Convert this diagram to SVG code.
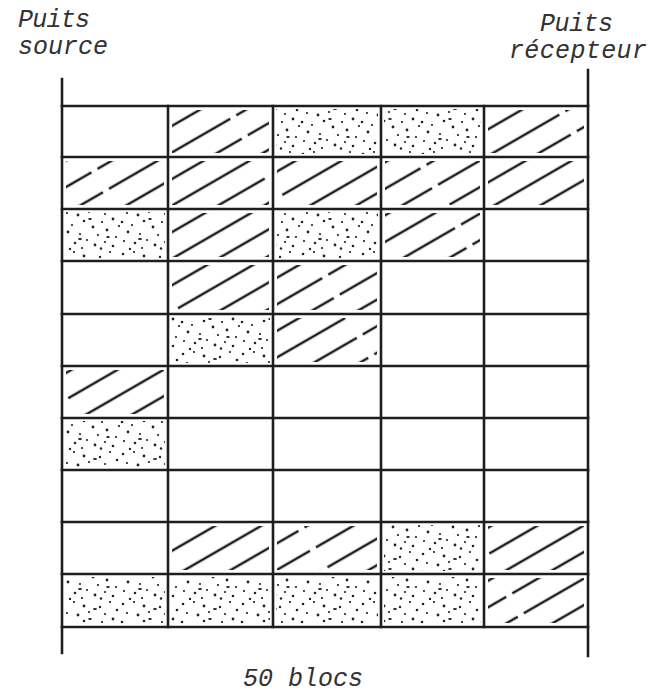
<svg xmlns="http://www.w3.org/2000/svg" width="651" height="697" viewBox="0 0 651 697">
<style>
.lbl{font-family:"Liberation Mono","DejaVu Sans Mono",monospace;font-style:italic;font-size:25px;fill:#333}
.grid{stroke:#1e1e1e;stroke-width:2.6;fill:none;stroke-linecap:square}
.hatch{fill:url(#hatch)}
.dots{fill:url(#dots)}
</style>
<defs>
<pattern id="hatch" patternUnits="userSpaceOnUse" width="287" height="23" patternTransform="rotate(-30)">
<line x1="0" y1="11" x2="287" y2="11" stroke="#1e1e1e" stroke-width="2.5" stroke-dasharray="140 7 133 7"/>
</pattern>
<pattern id="dots" patternUnits="userSpaceOnUse" width="60" height="50">
<g fill="#222">
<circle cx="3" cy="4" r="1.3"/><circle cx="14" cy="2" r="1.1"/><circle cx="24" cy="6" r="1.4"/><circle cx="40" cy="7" r="1.2"/><circle cx="50" cy="2" r="1.1"/><circle cx="57" cy="10" r="1.3"/>
<circle cx="7" cy="13" r="1.1"/><circle cx="18" cy="15" r="1.4"/><circle cx="29" cy="12" r="1.1"/><circle cx="45" cy="14" r="1.1"/><circle cx="53" cy="19" r="1.4"/>
<circle cx="2" cy="22" r="1.3"/><circle cx="12" cy="25" r="1.1"/><circle cx="24" cy="21" r="1.3"/><circle cx="33" cy="27" r="1.4"/><circle cx="42" cy="22" r="1.1"/><circle cx="59" cy="26" r="1.1"/>
<circle cx="8" cy="32" r="1.4"/><circle cx="20" cy="34" r="1.1"/><circle cx="38" cy="35" r="1.1"/><circle cx="47" cy="30" r="1.4"/><circle cx="56" cy="37" r="1.1"/>
<circle cx="4" cy="41" r="1.1"/><circle cx="15" cy="43" r="1.3"/><circle cx="27" cy="40" r="1.1"/><circle cx="35" cy="45" r="1.4"/><circle cx="45" cy="42" r="1.1"/><circle cx="53" cy="46" r="1.3"/>
<circle cx="10" cy="49" r="1.2"/><circle cx="22" cy="48" r="1.1"/><circle cx="41" cy="48.5" r="1.2"/>
<ellipse cx="35" cy="9" rx="2" ry="1"/><ellipse cx="20" cy="39" rx="2" ry="1"/><ellipse cx="48" cy="37" rx="1.8" ry="1.1"/><ellipse cx="30" cy="19" rx="1.8" ry="1"/>
</g>
</pattern>
</defs>

<g id="labels">
<text class="lbl" x="18" y="27" textLength="72">Puits</text>
<text class="lbl" x="18" y="54" textLength="90">source</text>
<text class="lbl" x="540" y="31" textLength="73">Puits</text>
<text class="lbl" x="509" y="58" textLength="138">récepteur</text>
<text class="lbl" x="243" y="686" textLength="120">50 blocs</text>
</g>

<g id="cells">
<g id="r0c1"><rect class="hatch" x="172" y="110" width="97" height="43"/></g>
<g id="r0c2"><rect class="dots" x="276" y="109" width="102" height="45"/></g>
<g id="r0c3"><rect class="dots" x="384" y="109" width="97" height="45"/></g>
<g id="r0c4"><rect class="hatch" x="488" y="110" width="96" height="43"/></g>

<g id="r1c0"><rect class="hatch" x="66" y="161" width="98" height="44"/></g>
<g id="r1c1"><rect class="hatch" x="172" y="161" width="97" height="44"/></g>
<g id="r1c2"><rect class="hatch" x="277" y="161" width="100" height="44"/></g>
<g id="r1c3"><rect class="hatch" x="385" y="161" width="95" height="44"/></g>
<g id="r1c4"><rect class="hatch" x="488" y="161" width="96" height="44"/></g>

<g id="r2c0"><rect class="dots" x="65" y="212" width="100" height="46"/></g>
<g id="r2c1"><rect class="hatch" x="172" y="213" width="97" height="44"/></g>
<g id="r2c2"><rect class="dots" x="276" y="212" width="102" height="46"/></g>
<g id="r2c3"><rect class="hatch" x="385" y="213" width="95" height="44"/></g>

<g id="r3c1"><rect class="hatch" x="172" y="265" width="97" height="45"/></g>
<g id="r3c2"><rect class="hatch" x="277" y="265" width="100" height="45"/></g>

<g id="r4c1"><rect class="dots" x="171" y="317" width="99" height="46"/></g>
<g id="r4c2"><rect class="hatch" x="277" y="318" width="100" height="44"/></g>

<g id="r5c0"><rect class="hatch" x="66" y="370" width="98" height="44"/></g>

<g id="r6c0"><rect class="dots" x="65" y="421" width="100" height="46"/></g>

<g id="r8c1"><rect class="hatch" x="172" y="526" width="97" height="44"/></g>
<g id="r8c2"><rect class="hatch" x="277" y="526" width="100" height="44"/></g>
<g id="r8c3"><rect class="dots" x="384" y="525" width="97" height="46"/></g>
<g id="r8c4"><rect class="hatch" x="488" y="526" width="96" height="44"/></g>

<g id="r9c0"><rect class="dots" x="65" y="577" width="100" height="47"/></g>
<g id="r9c1"><rect class="dots" x="171" y="577" width="99" height="47"/></g>
<g id="r9c2"><rect class="dots" x="276" y="577" width="102" height="47"/></g>
<g id="r9c3"><rect class="dots" x="384" y="577" width="97" height="47"/></g>
<g id="r9c4"><rect class="hatch" x="488" y="578" width="96" height="45"/></g>
</g>

<g id="grid" class="grid">
<line x1="62" y1="79" x2="62" y2="653"/>
<line x1="588" y1="70" x2="588" y2="656"/>
<line x1="168" y1="106" x2="168" y2="627"/>
<line x1="273" y1="106" x2="273" y2="627"/>
<line x1="381" y1="106" x2="381" y2="627"/>
<line x1="484" y1="106" x2="484" y2="627"/>
<line x1="62" y1="106" x2="588" y2="106"/>
<line x1="62" y1="157" x2="588" y2="157"/>
<line x1="62" y1="209" x2="588" y2="209"/>
<line x1="62" y1="261" x2="588" y2="261"/>
<line x1="62" y1="314" x2="588" y2="314"/>
<line x1="62" y1="366" x2="588" y2="366"/>
<line x1="62" y1="418" x2="588" y2="418"/>
<line x1="62" y1="470" x2="588" y2="470"/>
<line x1="62" y1="522" x2="588" y2="522"/>
<line x1="62" y1="574" x2="588" y2="574"/>
<line x1="62" y1="627" x2="588" y2="627"/>
</g>
</svg>
